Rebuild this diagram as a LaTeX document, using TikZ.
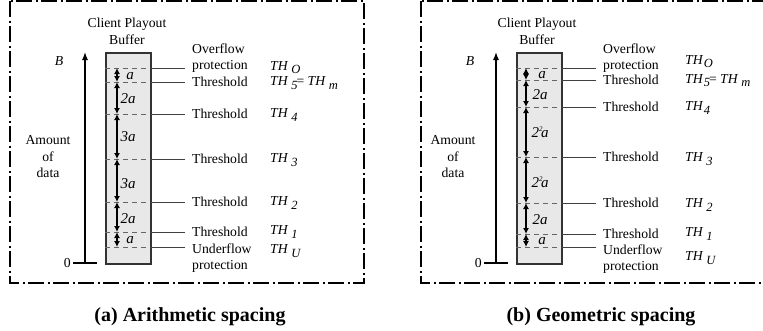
\documentclass[tikz,border=0pt]{standalone}
\usepackage{fontspec}
\setmainfont{Liberation Serif}
\usetikzlibrary{arrows.meta}
\newcommand\thlab[2][1.5pt]{\textit{TH}\kern#1\raisebox{-0.5ex}{\fontsize{12.5}{12.5}\selectfont\textit{#2}}}
\newcommand\sqa{2\raisebox{0.85ex}{\fontsize{7}{7}\selectfont 2}\kern-1.5pt a}
\begin{document}
\begin{tikzpicture}[x=1pt,y=-1pt,
  txt/.style={font=\fontsize{13.7}{16.5}\selectfont, inner sep=0pt},
  itx/.style={font=\fontsize{13.7}{16.5}\selectfont\itshape, inner sep=0pt},
  dimtxt/.style={font=\fontsize{15}{16}\selectfont\itshape, inner sep=0pt},
  frm/.style={line width=1.5pt, dash pattern=on 16pt off 3.5pt on 2pt off 3.5pt},
  buf/.style={draw=black!80, line width=1.5pt, fill=black!9, inner sep=0pt, minimum width=45pt, minimum height=211pt, anchor=north west},
  lev/.style={draw=black!60, line width=0.8pt, dash pattern=on 5pt off 4pt},
  conn/.style={draw=black!75, line width=0.9pt},
  dimarr/.style={line width=1.3pt, {Latex[length=6pt,width=6pt]}-{Latex[length=6pt,width=6pt]}},
  axisarr/.style={line width=1.3pt, -{Latex[length=8pt,width=6pt]}},
  tick/.style={line width=1.3pt},
  captxt/.style={font=\fontsize{20}{24}\selectfont\bfseries, inner sep=0pt}
]
\path[use as bounding box] (0,0) rectangle (763,330);
\clip (0,0) rectangle (763,330);

% ---------------- (a) ----------------
\draw[frm] (10,1) rectangle (364,283);
\node[txt, align=center] (aTitle) at (127,31.5) {Client Playout\\Buffer};
\node[buf] (aBuf) at (105,52) {};
\coordinate (aZero) at (85,263);
\coordinate (aTop) at (85,52);
\draw[axisarr] (aZero) -- (aTop);
\node[txt, anchor=east] (a0) at (71,263) {0};
\coordinate (aZr) at (97,263);
\draw[tick, shorten <=2pt] (a0.east) -- (aZr);
\node[itx] (aB) at (59,61) {B};
\node[txt, align=center] (aAmt) at (48,157) {Amount\\of\\data};
\foreach \n/\y in {O/68,5/82,4/114,3/159,2/202,1/232,U/247} {
  \coordinate (aL\n) at (105,\y);
  \coordinate (aR\n) at (150,\y);
  \coordinate (aE\n) at (185,\y);
  \coordinate (aD\n) at (117,\y);
  \draw[lev] (aL\n) -- (aR\n);
  \draw[conn] (aR\n) -- (aE\n);
}
\draw[dimarr] (aDO) -- (aD5);
\draw[dimarr] (aD5) -- (aD4);
\draw[dimarr] (aD4) -- (aD3);
\draw[dimarr] (aD3) -- (aD2);
\draw[dimarr] (aD2) -- (aD1);
\draw[dimarr] (aD1) -- (aDU);
\node[dimtxt] (aS1) at (130,76) {a};
\node[dimtxt] (aS2) at (128,99) {2a};
\node[dimtxt] (aS3) at (128,137) {3a};
\node[dimtxt] (aS4) at (128,184) {3a};
\node[dimtxt] (aS5) at (128,219) {2a};
\node[dimtxt] (aS6) at (130,240) {a};
\node[txt, align=left, anchor=west] (aOv) at (192,58) {Overflow\\protection};
\node[txt, anchor=west] (aT5) at (192,82) {Threshold};
\node[txt, anchor=west] (aT4) at (192,114) {Threshold};
\node[txt, anchor=west] (aT3) at (192,159) {Threshold};
\node[txt, anchor=west] (aT2) at (192,202) {Threshold};
\node[txt, anchor=west] (aT1) at (192,232) {Threshold};
\node[txt, align=left, anchor=west] (aUn) at (192,258) {Underflow\\protection};
\node[txt, anchor=west] (aHO) at (270,68) {\thlab[3pt]{O}};
\node[txt, anchor=west] (aH5) at (270,83) {\thlab[3pt]{5}\kern-1pt= \thlab[3pt]{m}};
\node[txt, anchor=west] (aH4) at (270,115) {\thlab[3pt]{4}};
\node[txt, anchor=west] (aH3) at (270,160) {\thlab[3pt]{3}};
\node[txt, anchor=west] (aH2) at (270,203) {\thlab[3pt]{2}};
\node[txt, anchor=west] (aH1) at (270,232) {\thlab[3pt]{1}};
\node[txt, anchor=west] (aHU) at (270,251) {\thlab[3pt]{U}};
\node[captxt] (aCap) at (190,317) {(a) Arithmetic spacing};

% ---------------- (b) ----------------
\draw[frm] (421,1) rectangle (775,283);
\node[txt, align=center] (bTitle) at (537,31.5) {Client Playout\\Buffer};
\node[buf] (bBuf) at (516,52) {};
\coordinate (bZero) at (496,263);
\coordinate (bTop) at (496,52);
\draw[axisarr] (bZero) -- (bTop);
\node[txt, anchor=east] (b0) at (482,263) {0};
\coordinate (bZr) at (508,263);
\draw[tick, shorten <=2pt] (b0.east) -- (bZr);
\node[itx] (bB) at (470,61) {B};
\node[txt, align=center] (bAmt) at (453,157) {Amount\\of\\data};
\foreach \n/\y in {O/68,5/80,4/107,3/157,2/203,1/234,U/247} {
  \coordinate (bL\n) at (516,\y);
  \coordinate (bR\n) at (561,\y);
  \coordinate (bE\n) at (596,\y);
  \coordinate (bD\n) at (526,\y);
  \draw[lev] (bL\n) -- (bR\n);
  \draw[conn] (bR\n) -- (bE\n);
}
\draw[dimarr] (bDO) -- (bD5);
\draw[dimarr] (bD5) -- (bD4);
\draw[dimarr] (bD4) -- (bD3);
\draw[dimarr] (bD3) -- (bD2);
\draw[dimarr] (bD2) -- (bD1);
\draw[dimarr] (bD1) -- (bDU);
\node[dimtxt] (bS1) at (542,75) {a};
\node[dimtxt] (bS2) at (540,95) {2a};
\node[dimtxt] (bS3) at (540,132) {\sqa};
\node[dimtxt] (bS4) at (540,182) {\sqa};
\node[dimtxt] (bS5) at (540,220) {2a};
\node[dimtxt] (bS6) at (542,241) {a};
\node[txt, align=left, anchor=west] (bOv) at (603,58) {Overflow\\protection};
\node[txt, anchor=west] (bT5) at (603,80) {Threshold};
\node[txt, anchor=west] (bT4) at (603,107) {Threshold};
\node[txt, anchor=west] (bT3) at (603,157) {Threshold};
\node[txt, anchor=west] (bT2) at (603,203) {Threshold};
\node[txt, anchor=west] (bT1) at (603,234) {Threshold};
\node[txt, align=left, anchor=west] (bUn) at (603,259) {Underflow\\protection};
\node[txt, anchor=west] (bHO) at (685,62) {\thlab[0.5pt]{O}};
\node[txt, anchor=west] (bH5) at (685,81) {\thlab[0.5pt]{5}\kern-1pt= \thlab[3pt]{m}};
\node[txt, anchor=west] (bH4) at (685,108) {\thlab[0.5pt]{4}};
\node[txt, anchor=west] (bH3) at (685,159) {\thlab[3pt]{3}};
\node[txt, anchor=west] (bH2) at (685,205) {\thlab[3pt]{2}};
\node[txt, anchor=west] (bH1) at (685,234) {\thlab[3pt]{1}};
\node[txt, anchor=west] (bHU) at (685,258) {\thlab[3pt]{U}};
\node[captxt] (bCap) at (601,317) {(b) Geometric spacing};
\end{tikzpicture}
\end{document}
